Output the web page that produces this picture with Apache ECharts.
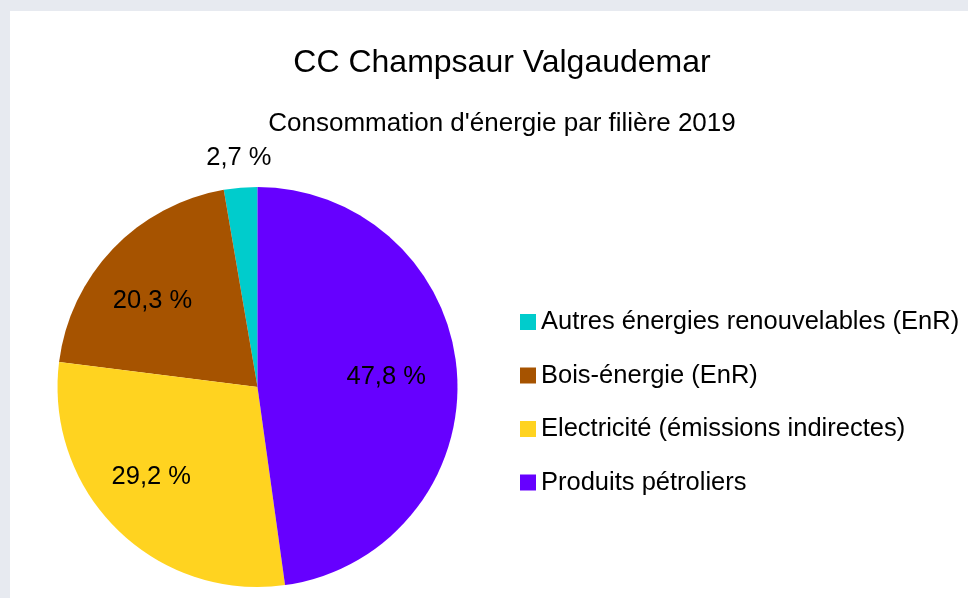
<!DOCTYPE html>
<html>
<head>
<meta charset="utf-8">
<script src="https://cdn.jsdelivr.net/npm/echarts@6/dist/echarts.min.js"></script>
<style>
  html, body { margin: 0; padding: 0; }
  body {
    width: 968px; height: 598px; overflow: hidden; position: relative;
    background: #e7eaf0;
  }
  #panel { position: absolute; left: 10px; top: 11px; width: 958px; height: 587px; background: #fff; }
  #chart { position: absolute; left: 0; top: 0; width: 968px; height: 598px; }
</style>
</head>
<body>
<div id="panel"></div>
<div id="chart"></div>
<script>
'use strict';

// Chart data (legend order, drawn counter-clockwise from 12 o'clock)
const categories = [
  'Autres énergies renouvelables (EnR)',
  'Bois-énergie (EnR)',
  'Electricité (émissions indirectes)',
  'Produits pétroliers',
];
const shares = [2.7, 20.3, 29.2, 47.8];
const colors = ['#00cccc', '#a65300', '#ffd320', '#6600ff'];

const FONT = '"Liberation Sans", Arial, sans-serif';
const CENTER = [257.5, 387];

// nudges so the labels sit where the original tool put them
const labelOffsets = [[-7, -93], [-6, 9], [-10, -8], [-8, -1]];

const chart = echarts.init(document.getElementById('chart'), null, { renderer: 'canvas' });

const pieData = categories.map((name, i) => ({
  name,
  value: shares[i],
  itemStyle: { color: colors[i] },
}));

// Label-only copy of the pie, wider so inside labels sit ~2/3 out from the center
const labelData = categories.map((name, i) => ({
  name,
  value: shares[i],
  label: { offset: labelOffsets[i] },
}));

const fmt = (v) => v.toFixed(1).replace('.', ',') + ' %';

chart.setOption({
  backgroundColor: 'transparent',
  animation: false,
  title: [
    {
      text: 'CC Champsaur Valgaudemar',
      left: 497, top: 42, textAlign: 'center',
      textStyle: { fontFamily: FONT, fontSize: 32, fontWeight: 'normal', color: '#000' },
    },
    {
      text: "Consommation d'énergie par filière 2019",
      left: 497, top: 106, textAlign: 'center',
      textStyle: { fontFamily: FONT, fontSize: 26, fontWeight: 'normal', color: '#000' },
    },
  ],
  legend: {
    orient: 'vertical',
    left: 515,
    top: 304,
    itemWidth: 16,
    itemHeight: 16,
    itemGap: 27.5,
    icon: 'rect',
    selectedMode: false,
    data: categories,
    textStyle: { fontFamily: FONT, fontSize: 25.5, color: '#000' },
  },
  series: [
    {
      type: 'pie',
      center: CENTER,
      radius: [0, 200],
      startAngle: 90,
      clockwise: false,
      silent: true,
      label: { show: false },
      labelLine: { show: false },
      data: pieData,
    },
    {
      type: 'pie',
      center: CENTER,
      radius: [0, 268],
      startAngle: 90,
      clockwise: false,
      silent: true,
      legendHoverLink: false,
      itemStyle: { color: 'rgba(0,0,0,0)' },
      label: {
        show: true,
        position: 'inside',
        fontFamily: FONT,
        fontSize: 25.5,
        color: '#000',
        formatter: (p) => fmt(p.value),
      },
      labelLine: { show: false },
      data: labelData,
    },
  ],
});
</script>
</body>
</html>
